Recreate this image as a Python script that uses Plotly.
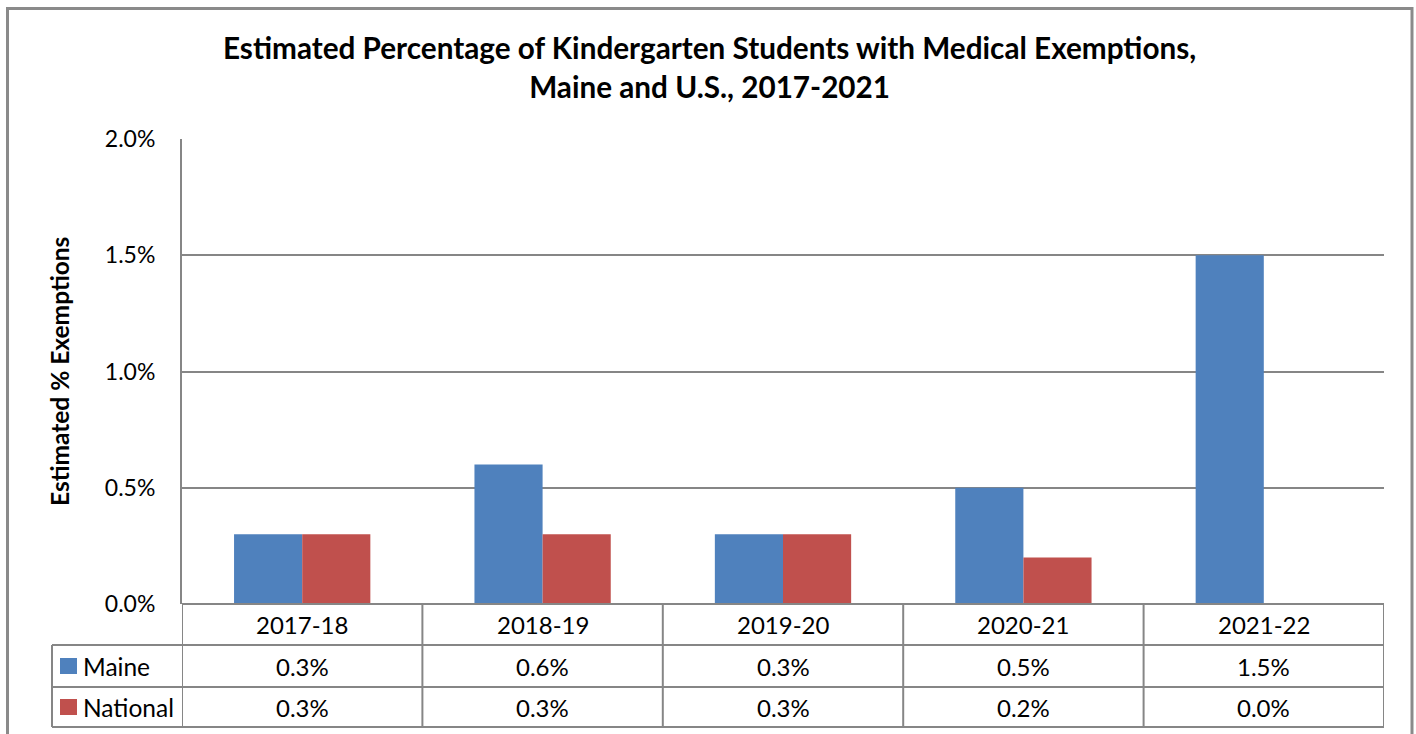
import plotly.graph_objects as go

categories = ["2017-18", "2018-19", "2019-20", "2020-21", "2021-22"]
maine = [0.3, 0.6, 0.3, 0.5, 1.5]
national = [0.3, 0.3, 0.3, 0.2, 0.0]
series_names = ["Maine", "National"]
colors = ["#4F81BD", "#C0504D"]
title_lines = ["Estimated Percentage of Kindergarten Students with Medical Exemptions,",
               "Maine and U.S., 2017-2021"]
y_title = "Estimated % Exemptions"

W, H = 1416, 734
FONT = "Lato"
GRID = "#868686"

def px(x):
    return x / W

def py(y):
    return (H - y) / H

x0, x1 = 182, 1384
y_top, y_zero = 139, 604
row_lines = [604, 645, 687, 727]
row_centers = [624.5, 666, 707]
legend_left = 52

fig = go.Figure()
for name, vals, c in zip(series_names, [maine, national], colors):
    fig.add_trace(go.Bar(x=categories, y=vals, name=name, marker=dict(color=c, line=dict(width=0)),
                         showlegend=False, hoverinfo="skip"))

shapes = []
shapes.append(dict(type="rect", xref="paper", yref="paper", x0=px(7.5), x1=px(1412), y0=py(760), y1=py(8.5),
                   line=dict(color="#8a8a8a", width=3), layer="below"))
shapes.append(dict(type="line", xref="paper", yref="paper", x0=px(x0), x1=px(x1), y0=py(row_lines[0]),
                   y1=py(row_lines[0]), line=dict(color=GRID, width=2)))
for yy in row_lines[1:]:
    shapes.append(dict(type="line", xref="paper", yref="paper", x0=px(legend_left), x1=px(x1), y0=py(yy), y1=py(yy),
                       line=dict(color=GRID, width=2)))
shapes.append(dict(type="line", xref="paper", yref="paper", x0=px(legend_left), x1=px(legend_left),
                   y0=py(row_lines[1]), y1=py(row_lines[-1]), line=dict(color=GRID, width=2)))
n = len(categories)
for i in range(n + 1):
    xv = i - 0.5
    shapes.append(dict(type="line", xref="x", yref="paper", x0=xv, x1=xv, y0=py(row_lines[0]), y1=py(row_lines[-1]),
                       line=dict(color=GRID, width=2)))

annotations = []
annotations.append(dict(text="<b>" + title_lines[0] + "</b><br><b>" + title_lines[1] + "</b>",
                        xref="paper", yref="paper", x=px(709), y=py(67), showarrow=False,
                        font=dict(family=FONT, size=29.7, color="#000"), align="center",
                        xanchor="center", yanchor="middle"))
annotations.append(dict(text="<b>" + y_title + "</b>", xref="paper", yref="paper", x=px(60), y=py(372),
                        textangle=-90, showarrow=False, font=dict(family=FONT, size=24.5, color="#000"),
                        xanchor="center", yanchor="middle"))
TABLE_SIZE = 24
for c in categories:
    annotations.append(dict(text=c, xref="x", yref="paper", x=c, y=py(row_centers[0]), showarrow=False,
                            font=dict(family=FONT, size=TABLE_SIZE, color="#000"), xanchor="center", yanchor="middle"))
for r, (name, vals, col) in enumerate(zip(series_names, [maine, national], colors)):
    yc = row_centers[r + 1]
    for c, v in zip(categories, vals):
        annotations.append(dict(text=f"{v:.1f}%", xref="x", yref="paper", x=c, y=py(yc), showarrow=False,
                                font=dict(family=FONT, size=TABLE_SIZE, color="#000"),
                                xanchor="center", yanchor="middle"))
    annotations.append(dict(text=name, xref="paper", yref="paper", x=px(81), y=py(yc), showarrow=False,
                            font=dict(family=FONT, size=24.5, color="#000"), xanchor="left", yanchor="middle"))
    shapes.append(dict(type="rect", xref="paper", yref="paper", x0=px(60), x1=px(77), y0=py(yc + 8), y1=py(yc - 8),
                       fillcolor=col, line=dict(width=0)))

fig.update_layout(
    width=W, height=H,
    margin=dict(l=0, r=0, t=0, b=0, autoexpand=False),
    paper_bgcolor="white", plot_bgcolor="white",
    barmode="group", bargap=0.433, bargroupgap=0,
    hovermode=False,
    xaxis=dict(domain=[px(x0), px(x1)], range=[-0.5, n - 0.5], showticklabels=False, showgrid=False,
               zeroline=False, showline=False, ticks="", automargin=False, fixedrange=True),
    yaxis=dict(domain=[py(y_zero), py(y_top)], range=[0, 2.0], dtick=0.5, tickformat=".1f", ticksuffix="%",
               showgrid=True, gridcolor=GRID, gridwidth=2, zeroline=False, showline=True, linecolor=GRID,
               linewidth=2, ticks="", ticklabelstandoff=20, automargin=False, fixedrange=True,
               tickfont=dict(family=FONT, size=23, color="#000")),
    shapes=shapes, annotations=annotations,
)
fig.write_html("out.html", config={"displayModeBar": False},
               post_script="document.body.style.margin='0';document.body.style.overflow='hidden';")
